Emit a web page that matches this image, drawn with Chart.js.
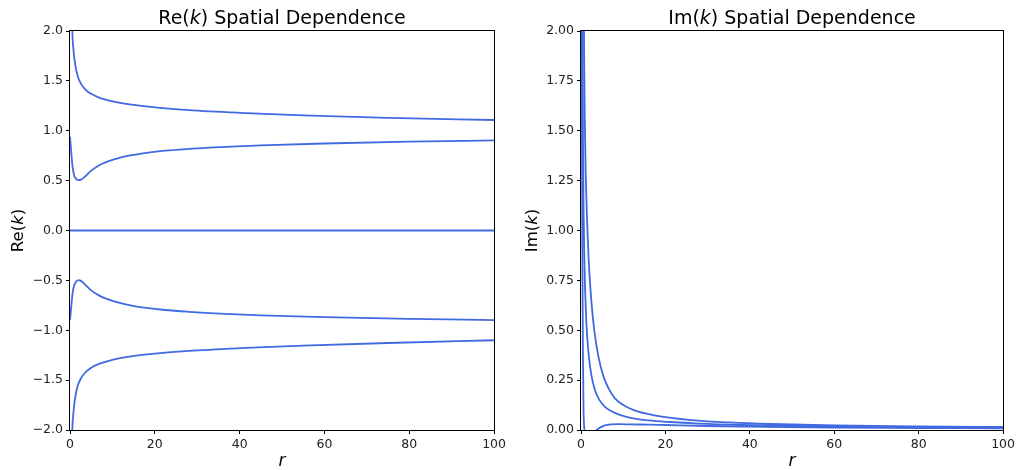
<!DOCTYPE html>
<html>
<head>
<meta charset="utf-8">
<script src="https://cdn.jsdelivr.net/npm/chart.js@4"></script>
<style>
    body { margin: 0; background: #fff; }
    .panel { position: absolute; top: 0; width: 509px; height: 470px; }
</style>
</head>
<body>
<div class="panel" style="left:0"><canvas id="reChart" width="509" height="470"></canvas></div>
<div class="panel" style="left:509px"><canvas id="imChart" width="509" height="470"></canvas></div>
<script>
// tick values
const xTickValues = [0, 20, 40, 60, 80, 100];
const reTickValues = [-2, -1.5, -1, -0.5, 0, 0.5, 1, 1.5, 2];
const imTickValues = [0, 0.25, 0.5, 0.75, 1, 1.25, 1.5, 1.75, 2];

// Re(k) curves
const reUpperR = [0.3, 0.55, 0.8, 1.2, 1.8, 2.6, 3.7, 5, 7, 10, 14, 20, 28, 40, 55, 75, 100];
const reUpperV = [2.6, 2.0, 1.82, 1.67, 1.55, 1.47, 1.41, 1.37, 1.33, 1.295, 1.264, 1.235, 1.207, 1.18, 1.155, 1.13, 1.108];

const reInnerR = [0, 0.3, 0.6, 1.0, 1.5, 2.0, 2.6, 3.5, 5, 6.7, 8.5, 10.6, 14.5, 18, 22.4, 28, 34, 45, 60, 80, 100];
const reInnerV = [0.94, 0.78, 0.64, 0.55, 0.515, 0.505, 0.51, 0.54, 0.6, 0.65, 0.685, 0.715, 0.755, 0.778, 0.8, 0.818, 0.833, 0.853, 0.872, 0.89, 0.903];

const reZeroR = [0, 100];
const reZeroV = [0, 0];

const reNegInnerR = [0, 0.3, 0.6, 1.0, 1.5, 2.0, 2.6, 3.5, 5, 6.7, 8.5, 10.6, 14.5, 18, 22.4, 28, 34, 45, 60, 80, 100];
const reNegInnerV = [-0.9, -0.76, -0.63, -0.55, -0.51, -0.497, -0.505, -0.54, -0.6, -0.648, -0.683, -0.713, -0.752, -0.776, -0.797, -0.815, -0.83, -0.85, -0.868, -0.885, -0.898];

const reNegUpperR = [0.3, 0.55, 0.8, 1.2, 1.8, 2.6, 3.7, 5, 7, 10, 14, 20, 28, 40, 55, 75, 100];
const reNegUpperV = [-2.6, -2.0, -1.83, -1.68, -1.56, -1.48, -1.42, -1.375, -1.335, -1.297, -1.265, -1.235, -1.207, -1.18, -1.155, -1.128, -1.1];

// Im(k) curves
const imSteepR = [0.05, 0.15, 0.3, 0.45, 0.6, 0.8];
const imSteepV = [2.6, 2.0, 1.0, 0.4, 0.1, 0];

const imInnerR = [0.3, 0.38, 0.47, 0.6, 0.75, 0.95, 1.2, 1.5, 1.9, 2.5, 3.3, 4.3, 5.5, 7, 9, 12, 16, 21, 28, 38, 50, 65, 80, 100];
const imInnerV = [2.5, 1.9, 1.45, 1.12, 0.9, 0.72, 0.57, 0.46, 0.36, 0.27, 0.2, 0.152, 0.12, 0.096, 0.077, 0.06, 0.048, 0.04, 0.032, 0.025, 0.02, 0.016, 0.013, 0.011];

const imOuterR = [0.6, 0.75, 0.9, 1.1, 1.4, 1.8, 2.4, 3.2, 4.2, 5.3, 6.5, 8, 10, 12.5, 15.5, 20, 27, 35, 45, 60, 80, 100];
const imOuterV = [2.4, 1.85, 1.55, 1.3, 1.07, 0.86, 0.66, 0.49, 0.36, 0.27, 0.21, 0.16, 0.125, 0.1, 0.082, 0.064, 0.048, 0.038, 0.03, 0.023, 0.018, 0.015];

const imBumpR = [3.6, 4.5, 5.5, 7, 9, 12, 16, 20, 30, 40, 60, 80, 100];
const imBumpV = [0, 0.012, 0.022, 0.028, 0.029, 0.028, 0.027, 0.025, 0.02, 0.017, 0.012, 0.01, 0.008];

const lineColor = '#4169E1';
const fontFamily = '"DejaVu Sans", sans-serif';

function toPoints(rs, vs) {
    return rs.map((r, i) => ({ x: r, y: vs[i] }));
}

function makeDataset(rs, vs) {
    return {
        data: toPoints(rs, vs),
        borderColor: lineColor,
        borderWidth: 1.8,
        pointRadius: 0,
        cubicInterpolationMode: 'monotone',
        clip: 0
    };
}

// titles, axis labels and frame drawn by hand so k can be italic
function drawMixed(ctx, parts, size, x, y, align) {
    const fonts = parts.map(p => (p[1] ? 'italic ' : '') + size + 'px ' + fontFamily);
    let total = 0;
    const widths = parts.map((p, i) => {
        ctx.font = fonts[i];
        const w = ctx.measureText(p[0]).width;
        total += w;
        return w;
    });
    let cx = align === 'center' ? x - total / 2 : x;
    ctx.textAlign = 'left';
    ctx.textBaseline = 'alphabetic';
    parts.forEach((p, i) => {
        ctx.font = fonts[i];
        ctx.fillText(p[0], cx, y);
        cx += widths[i];
    });
}

function decorPlugin(name, yLabelX) {
    return {
        id: 'decor',
        afterDraw(chart) {
            const ctx = chart.ctx;
            const a = chart.chartArea;
            const mid = (a.left + a.right) / 2;
            ctx.save();
            ctx.strokeStyle = '#000';
            ctx.lineWidth = 1;
            ctx.strokeRect(Math.round(a.left) - 0.5, Math.round(a.top) - 0.5, Math.round(a.right - a.left) + 1, Math.round(a.bottom - a.top) + 1);
            ctx.fillStyle = '#000';
            drawMixed(ctx, [[name + '(', false], ['k', true], [') Spatial Dependence', false]], 19, mid, 24, 'center');
            drawMixed(ctx, [['r', true]], 17, mid, 466, 'center');
            ctx.translate(yLabelX, (a.top + a.bottom) / 2);
            ctx.rotate(-Math.PI / 2);
            drawMixed(ctx, [[name + '(', false], ['k', true], [')', false]], 16.5, 0, 0, 'center');
            ctx.restore();
        }
    };
}

function makeChart(id, datasets, yMin, yMax, yTicks, digits, yWidth, padRight, name, yLabelX) {
    return new Chart(document.getElementById(id), {
        type: 'line',
        data: { datasets: datasets },
        options: {
            responsive: false,
            animation: false,
            devicePixelRatio: 1,
            layout: { padding: { top: 31, right: padRight, bottom: 0, left: 0 } },
            plugins: { legend: { display: false }, tooltip: { enabled: false } },
            scales: {
                x: {
                    type: 'linear',
                    min: 0,
                    max: 100,
                    afterBuildTicks: s => { s.ticks = xTickValues.map(v => ({ value: v })); },
                    afterFit: s => { s.height = 40; },
                    grid: { drawOnChartArea: false, tickLength: 4, tickColor: '#000', tickWidth: 1 },
                    border: { display: false },
                    ticks: { color: '#222', font: { family: fontFamily, size: 12.5 }, padding: 3, maxRotation: 0 }
                },
                y: {
                    type: 'linear',
                    min: yMin,
                    max: yMax,
                    afterBuildTicks: s => { s.ticks = yTicks.map(v => ({ value: v })); },
                    afterFit: s => { s.width = yWidth; },
                    grid: { drawOnChartArea: false, tickLength: 4, tickColor: '#000', tickWidth: 1 },
                    border: { display: false },
                    ticks: {
                        color: '#222',
                        font: { family: fontFamily, size: 12.5 },
                        padding: 3,
                        callback: v => Number(v).toFixed(digits).replace('-', '\u2212')
                    }
                }
            }
        },
        plugins: [decorPlugin(name, yLabelX)]
    });
}

makeChart('reChart', [
    makeDataset(reUpperR, reUpperV),
    makeDataset(reInnerR, reInnerV),
    makeDataset(reZeroR, reZeroV),
    makeDataset(reNegInnerR, reNegInnerV),
    makeDataset(reNegUpperR, reNegUpperV)
], -2, 2, reTickValues, 1, 70, 14, 'Re', 23);

makeChart('imChart', [
    makeDataset(imSteepR, imSteepV),
    makeDataset(imInnerR, imInnerV),
    makeDataset(imOuterR, imOuterV),
    makeDataset(imBumpR, imBumpV)
], 0, 2, imTickValues, 2, 72, 12, 'Im', 28);
</script>
</body>
</html>
